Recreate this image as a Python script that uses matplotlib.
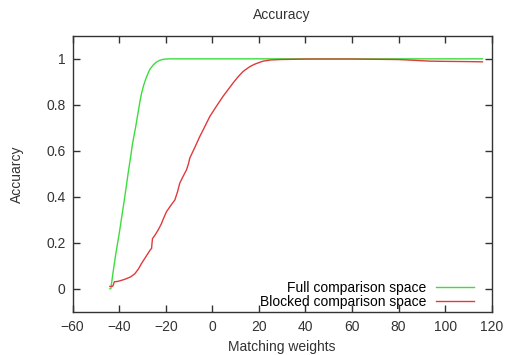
import matplotlib
matplotlib.use("Agg")
import matplotlib.pyplot as plt

plt.rcParams['font.family'] = ['Liberation Sans', 'DejaVu Sans']

# full comparison space
full_w = [-44, -43.6, -42.8, -41.5, -40, -38.8, -37.6, -36.2, -35, -34.3, -33, -32,
          -31, -30.4, -29.5, -28.5, -27.5, -26.8, -25.5, -24.5, -23.5, -22.5, -21, -20,
          -18, -10, 0, 20, 40, 60, 80, 100, 116]
full_acc = [0, 0, 0.06, 0.15, 0.24, 0.32, 0.4, 0.5, 0.58, 0.63, 0.7, 0.76,
            0.82, 0.85, 0.885, 0.915, 0.94, 0.955, 0.972, 0.982, 0.989, 0.994, 0.998, 0.999,
            1.0, 1.0, 1.0, 1.0, 1.0, 1.0, 1.0, 1.0, 1.0]

# blocked comparison space
blk_w = [-44, -43, -42.6, -42.1, -40.5, -38.5, -36.8, -35, -33.3, -31.8, -30.4, -28.5,
         -26.6, -26.1, -25.9, -25.7, -24.5, -23.3, -22, -21, -19.7, -18, -16.1, -15,
         -14, -12.5, -11.1, -10.2, -9.7, -7.5, -5.4, -3.5, -1.1, 1.5, 4.6, 7.5, 8.9,
         10.5, 11.8, 13.2, 14.7, 16.1, 18, 20.4, 21.8, 25, 29, 35, 40, 50, 60, 70, 80,
         86, 93.4, 100, 110, 116]
blk_acc = [0.01, 0.01, 0.014, 0.03, 0.032, 0.038, 0.044, 0.052, 0.065, 0.085, 0.11, 0.14,
           0.17, 0.175, 0.2, 0.218, 0.235, 0.255, 0.28, 0.305, 0.335, 0.36, 0.386, 0.42,
           0.459, 0.49, 0.517, 0.545, 0.568, 0.615, 0.662, 0.7, 0.749, 0.79, 0.837, 0.876, 0.895,
           0.915, 0.93, 0.945, 0.956, 0.966, 0.976, 0.985, 0.99, 0.995, 0.997, 0.998, 0.999,
           0.999, 0.999, 0.998, 0.997, 0.994, 0.99, 0.989, 0.988, 0.987]

xticks = [-60, -40, -20, 0, 20, 40, 60, 80, 100, 120]
yticks = [0, 0.2, 0.4, 0.6, 0.8, 1]
ytick_labels = ['0', '0.2', '0.4', '0.6', '0.8', '1']

fig = plt.figure(figsize=(5.08, 3.55), dpi=100)
ax = fig.add_axes([0.143, 0.122, 0.825, 0.777])

ax.plot(full_w, full_acc, color='#3ddd3d', linewidth=1.0, label='Full comparison space')
ax.plot(blk_w, blk_acc, color='#e03a3a', linewidth=1.0, label='Blocked comparison space')

ax.set_xlim(-60, 120)
ax.set_ylim(-0.1, 1.1)
ax.set_xticks(xticks)
ax.set_yticks(yticks)
ax.set_yticklabels(ytick_labels)

# gnuplot style: inward ticks on every side
ax.tick_params(direction='in', top=True, right=True, length=5, width=1,
               labelsize=10, labelcolor='#333333', colors='#333333', pad=6)
ax.tick_params(axis='y', pad=5)
for s in ax.spines.values():
    s.set_color('#333333')
    s.set_linewidth(1)

ax.set_title('Accuracy', fontsize=10, color='#333333', pad=12)
ax.set_xlabel('Matching weights', fontsize=10, color='#333333', labelpad=4)
ax.set_ylabel('Accuarcy', fontsize=10, color='#333333', labelpad=16)

ax.legend(loc='lower right', frameon=False, markerfirst=False, fontsize=10,
          handlelength=2.8, handletextpad=0.65, labelspacing=0.0,
          borderaxespad=0.0, bbox_to_anchor=(0.972, -0.009))

fig.savefig('out.png', dpi=100)
